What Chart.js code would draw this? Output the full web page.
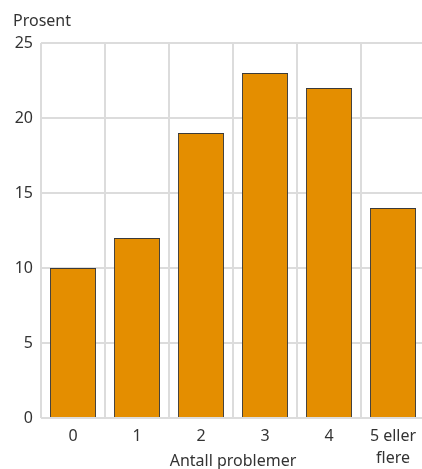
<!DOCTYPE html>
<html>
<head>
<meta charset="utf-8">
<script src="https://cdn.jsdelivr.net/npm/chart.js@4/dist/chart.umd.min.js"></script>
<style>
  html, body { margin: 0; padding: 0; background: #fff; overflow: hidden; }
  #wrap { width: 422px; height: 469px; overflow: hidden; position: relative; }
  canvas { display: block; }
</style>
</head>
<body>
<div id="wrap"><canvas id="c" width="425" height="469"></canvas></div>
<script>
// Share of respondents by number of problems
const categories = ['0', '1', '2', '3', '4', ['5 eller', 'flere']];
const shares = [10, 12, 19, 23, 22, 14];
const yTicks = [0, 5, 10, 15, 20, 25];

const FONT = '"Noto Sans", "Open Sans", sans-serif';
const TEXT = '#333333';
const GRID = '#dcdcdc';

// Draws the unit label above the value axis
const unitLabel = {
  id: 'unitLabel',
  afterDraw(chart) {
    const ctx = chart.ctx;
    ctx.save();
    ctx.font = '16px ' + FONT;
    ctx.fillStyle = TEXT;
    ctx.textBaseline = 'alphabetic';
    ctx.textAlign = 'left';
    ctx.fillText('Prosent', 13, 26);
    ctx.restore();
  }
};

new Chart(document.getElementById('c'), {
  type: 'bar',
  data: {
    labels: categories,
    datasets: [{
      data: shares,
      backgroundColor: '#e48e00',
      borderColor: '#3a3a3a',
      borderWidth: 1,
      barPercentage: 0.72,
      categoryPercentage: 1
    }]
  },
  options: {
    responsive: false,
    animation: false,
    devicePixelRatio: 1,
    layout: { padding: { top: 43, right: 0, left: 0, bottom: 0 } },
    plugins: { legend: { display: false }, tooltip: { enabled: false } },
    scales: {
      x: {
        offset: true,
        grid: { color: GRID, lineWidth: 2, offset: true, drawTicks: false },
        border: { display: false },
        ticks: {
          color: TEXT,
          font: { family: FONT, size: 16, lineHeight: 1.35 },
          padding: 8,
          maxRotation: 0
        },
        title: {
          display: true,
          text: 'Antall problemer',
          color: TEXT,
          font: { family: FONT, size: 16, lineHeight: 0.9 },
          padding: { top: 0, bottom: 0 }
        },
        afterFit(scale) { scale.height = 51; }
      },
      y: {
        min: 0,
        max: 25,
        afterBuildTicks(scale) { scale.ticks = yTicks.map(v => ({ value: v })); },
        grid: { color: GRID, lineWidth: 2, drawTicks: false },
        border: { display: false },
        ticks: {
          color: TEXT,
          font: { family: FONT, size: 16 },
          padding: 8
        },
        afterFit(scale) { scale.width = 41; }
      }
    }
  },
  plugins: [unitLabel]
});
</script>
</body>
</html>
